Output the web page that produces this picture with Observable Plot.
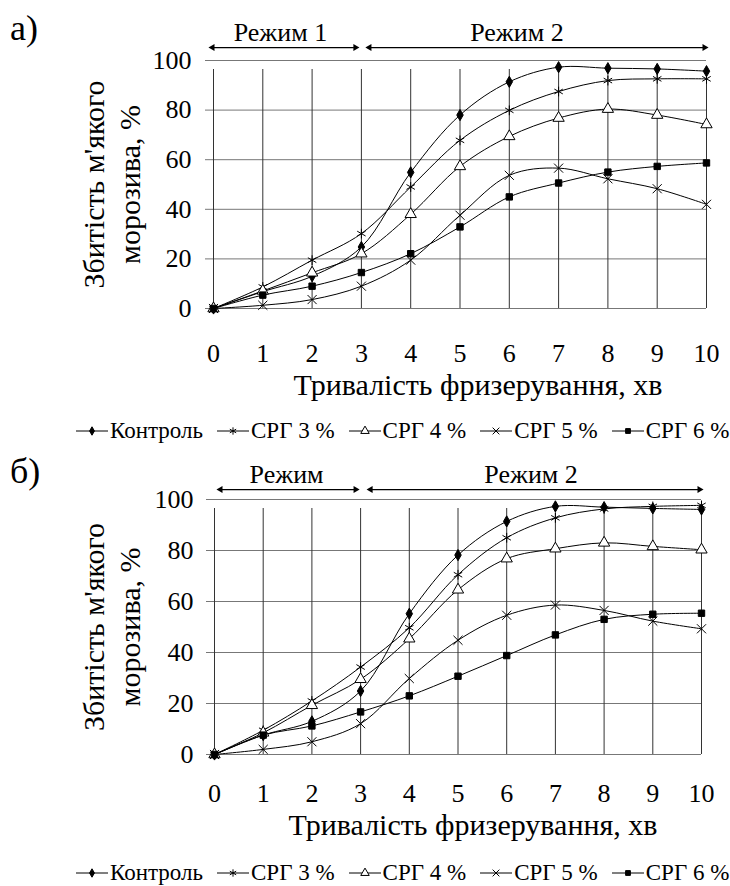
<!DOCTYPE html>
<html>
<head>
<meta charset="utf-8">
<script src="https://cdn.jsdelivr.net/npm/d3@7"></script>
<script src="https://cdn.jsdelivr.net/npm/@observablehq/plot@0.6"></script>
<style>
  body { margin: 0; background: #fff; font-family: 'Liberation Serif', 'Times New Roman', serif; color: #000; }
  #root { position: relative; width: 730px; height: 886px; overflow: hidden; background: #fff; }
  .panel { position: absolute; left: 0; }
  .panel svg { overflow: visible; }
  .tag { position: absolute; left: 10px; font-size: 36px; line-height: 36px; }
  .legend { position: absolute; display: flex; align-items: center; font-size: 23px; line-height: 26px; height: 26px; white-space: nowrap; }
  .legend .item { display: flex; align-items: center; margin-right: 14px; }
  .legend .item span { margin-left: 2px; }
</style>
</head>
<body>
<div id="root"></div>
<script>
// ---------- data ----------
const minutes = [0, 1, 2, 3, 4, 5, 6, 7, 8, 9, 10];
const yTicks = [0, 20, 40, 60, 80, 100];
const seriesNames = ["Контроль", "СРГ 3 %", "СРГ 4 %", "СРГ 5 %", "СРГ 6 %"];

// panel а)
const controlA = [0, 6.8, 13, 24.8, 54.9, 78, 91.4, 97.3, 96.9, 96.6, 95.7];
const srg3A    = [0, 8.7, 19.5, 30.2, 49, 67.8, 79.9, 87.5, 91.9, 92.6, 92.6];
const srg4A    = [0, 7.1, 14.4, 22.1, 38, 57.3, 69.4, 76.8, 80.4, 78, 74.2];
const srg5A    = [0, 1.3, 3.6, 9, 19.5, 37.6, 53.7, 56.6, 52.3, 48.3, 42];
const srg6A    = [0, 5.4, 9, 14.5, 22.1, 32.9, 45, 50.6, 55, 57.3, 58.7];

// panel б)
const controlB = [0, 7.6, 13, 24.9, 55.2, 78.2, 91.4, 97.3, 97, 96.5, 96.1];
const srg3B    = [0, 9.5, 21, 34.3, 49.7, 70.5, 85, 92.8, 96.3, 97.3, 97.7];
const srg4B    = [0, 8.5, 19.3, 29.5, 45.4, 64.6, 76.8, 80.7, 83, 81.6, 80.3];
const srg5B    = [0, 2, 5, 12.1, 29.8, 44.8, 54.6, 58.6, 56.5, 52.3, 49.3];
const srg6B    = [0, 7.6, 11.2, 16.7, 23, 30.7, 38.8, 46.9, 53, 55, 55.4];

// regimes (minutes)
const regimeLabelsA = ["Режим 1", "Режим 2"];
const regimeLabelsB = ["Режим", "Режим 2"];
const regimeStart = [0, 3];
const regimeEnd = [3, 10];

const yTitle = "Збитість м'якого\nморозива, %";
const xTitle = "Тривалість фризерування, хв";

// ---------- styles ----------
const FONT = "'Liberation Serif', 'Times New Roman', serif";
const symbols = ["diamond", "asterisk", "triangle", "times", "square"];
const fills   = ["#000", "none", "#fff", "none", "#000"];
const radii   = [3.4, 4.6, 4.2, 4.2, 3.6];

function buildRows(valuesList) {
  const rows = [];
  valuesList.forEach((vals, si) => vals.forEach((v, i) => rows.push({series: seriesNames[si], si, minute: minutes[i], value: v})));
  return rows;
}

function regimeMarks(labels, g) {
  const marks = [];
  labels.forEach((label, i) => {
    const d = [{label, from: regimeStart[i], to: regimeEnd[i], mid: (regimeStart[i] + regimeEnd[i]) / 2}];
    const iL = g.arrowInsetL[i], iR = g.arrowInsetR[i];
    marks.push(Plot.ruleY(d, {y: () => g.arrowY, x1: "from", x2: "to", stroke: "#000", strokeWidth: 1.2, insetLeft: iL + 3, insetRight: iR + 3}));
    marks.push(Plot.dot(d, {x: "from", y: () => g.arrowY, symbol: "triangle", r: 2.6, fill: "#000", stroke: "none", rotate: -90, dx: iL + 2}));
    marks.push(Plot.dot(d, {x: "to", y: () => g.arrowY, symbol: "triangle", r: 2.6, fill: "#000", stroke: "none", rotate: 90, dx: -iR - 2}));
    marks.push(Plot.text(d, {x: "mid", y: () => g.labelY, text: "label", fontSize: 26, lineAnchor: "middle", dx: g.labelDx[i]}));
  });
  return marks;
}

function panel(valuesList, labels, g) {
  const rows = buildRows(valuesList);
  const dotMarks = seriesNames.map((name, si) =>
    Plot.dot(rows.filter(r => r.si === si), {
      x: "minute", y: "value", symbol: symbols[si], r: radii[si],
      fill: fills[si], stroke: "#000", strokeWidth: 1
    })
  );
  return Plot.plot({
    width: 730, height: g.height,
    marginTop: g.mt, marginBottom: g.mb, marginLeft: g.ml, marginRight: g.mr,
    style: {fontFamily: FONT, fontSize: "26px", color: "#000", background: "transparent"},
    x: {domain: [0, 10]},
    y: {domain: [0, 100]},
    marks: [
      Plot.ruleY(yTicks, {y: d => d, x1: 0, x2: 10, stroke: "#777", strokeWidth: 1, insetLeft: -8}),
      Plot.ruleX(minutes, {x: d => d, y1: 0, y2: 100, stroke: "#333", strokeWidth: 1, insetBottom: -9}),
      Plot.axisX(minutes, {tickSize: 0, tickPadding: g.xPad, fontSize: 26, label: null, tickFormat: d => String(d)}),
      Plot.axisY(yTicks, {tickSize: 0, tickPadding: g.yPad, fontSize: 26, label: null, tickFormat: d => String(d)}),
      Plot.text([yTitle], {text: d => d, frameAnchor: "left", rotate: -90, dx: g.yTitleDx, fontSize: 30, lineHeight: 1.2, lineAnchor: "middle", textAnchor: "middle"}),
      Plot.text([xTitle], {text: d => d, frameAnchor: "bottom", dx: g.xTitleDx, dy: g.xTitleDy, fontSize: 30, lineAnchor: "middle"}),
      ...regimeMarks(labels, g),
      Plot.line(rows, {x: "minute", y: "value", z: "series", curve: "catmull-rom", stroke: "#000", strokeWidth: 1}),
      ...dotMarks
    ]
  });
}

function legend(top, left) {
  const div = document.createElement("div");
  div.className = "legend";
  div.style.top = top + "px";
  div.style.left = left + "px";
  const symMap = {diamond: d3.symbolDiamond, asterisk: d3.symbolAsterisk, triangle: d3.symbolTriangle, times: d3.symbolTimes, square: d3.symbolSquare};
  seriesNames.forEach((name, si) => {
    const item = document.createElement("div");
    item.className = "item";
    const svg = d3.create("svg").attr("width", 32).attr("height", 20);
    svg.append("line").attr("x1", 0).attr("x2", 32).attr("y1", 10).attr("y2", 10).attr("stroke", "#000").attr("stroke-width", 1);
    const r = radii[si] * 0.75;
    svg.append("path")
      .attr("transform", "translate(16,10)")
      .attr("d", d3.symbol(symMap[symbols[si]], Math.PI * r * r)())
      .attr("fill", fills[si]).attr("stroke", "#000").attr("stroke-width", 1);
    item.appendChild(svg.node());
    const span = document.createElement("span");
    span.textContent = name;
    item.appendChild(span);
    div.appendChild(item);
  });
  return div;
}

const root = document.getElementById("root");

const gA = {height: 420, mt: 60, mb: 112, ml: 213, mr: 24, xPad: 35, yPad: 22, yTitleDx: -103, xTitleDx: 18, xTitleDy: 77,
  arrowY: 105.2, labelY: 111.4, arrowInsetL: [-3, 6], arrowInsetR: [4, 0], labelDx: [-7, -17]};
const gB = {height: 420, mt: 59, mb: 106, ml: 214, mr: 29, xPad: 29, yPad: 21, yTitleDx: -104, xTitleDx: 15, xTitleDy: 71,
  arrowY: 103.9, labelY: 109.9, arrowInsetL: [4, 8], arrowInsetR: [3, 0], labelDx: [-1, 0]};

const pa = document.createElement("div"); pa.className = "panel"; pa.style.top = "0px";
pa.appendChild(panel([controlA, srg3A, srg4A, srg5A, srg6A], regimeLabelsA, gA));
root.appendChild(pa);

const pb = document.createElement("div"); pb.className = "panel"; pb.style.top = "440px";
pb.appendChild(panel([controlB, srg3B, srg4B, srg5B, srg6B], regimeLabelsB, gB));
root.appendChild(pb);

const tagA = document.createElement("div"); tagA.className = "tag"; tagA.style.top = "10px"; tagA.textContent = "а)";
root.appendChild(tagA);
const tagB = document.createElement("div"); tagB.className = "tag"; tagB.style.top = "453px"; tagB.textContent = "б)";
root.appendChild(tagB);

root.appendChild(legend(418, 76));
root.appendChild(legend(860, 76));
</script>
</body>
</html>
